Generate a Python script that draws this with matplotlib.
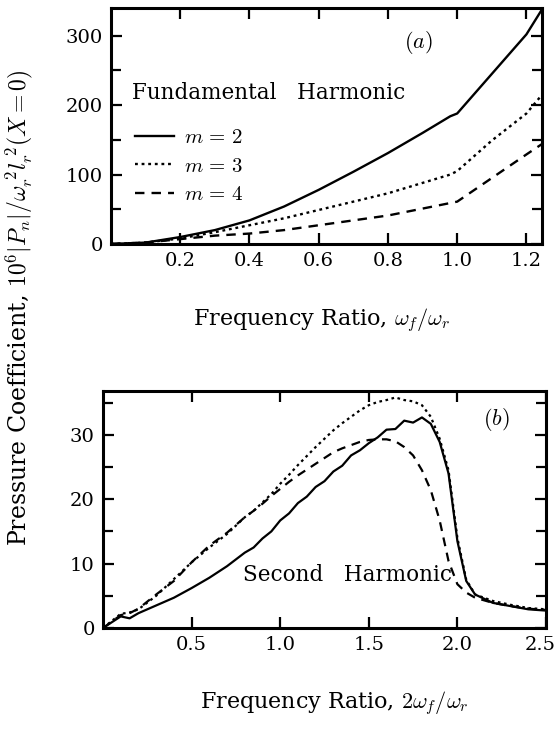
import matplotlib
matplotlib.use("Agg")
import matplotlib.pyplot as plt
from matplotlib.ticker import MultipleLocator
import matplotlib.transforms as mtransforms

plt.rcParams['font.family'] = ['DejaVu Serif']
plt.rcParams['mathtext.fontset'] = 'cm'

# ---- Panel (a): fundamental harmonic ----
xa = [0.0, 0.1, 0.2, 0.3, 0.4, 0.5, 0.6, 0.7, 0.8, 0.9, 0.98, 1.0, 1.1, 1.2, 1.245]
a_m2 = [0, 2, 10, 20, 34, 54, 78, 104, 131, 160, 184, 188, 245, 302, 338]
a_m3 = [0, 2, 8, 17, 27, 37, 49, 61, 73, 88, 100, 105, 149, 188, 215]
a_m4 = [0, 2, 7, 12, 15, 20, 27, 34, 41, 51, 59, 61, 95, 129, 144]
labels_a = ['$m\\,=\\,2$', '$m\\,=\\,3$', '$m\\,=\\,4$']

# ---- Panel (b): second harmonic ----
xb = [0.0, 0.1, 0.15, 0.2, 0.3, 0.4, 0.5, 0.6, 0.7, 0.8, 0.85, 0.9, 0.95, 1.0,
      1.05, 1.1, 1.15, 1.2, 1.25, 1.3, 1.35, 1.4, 1.45, 1.5, 1.55, 1.6, 1.65,
      1.7, 1.75, 1.8, 1.85, 1.9, 1.95, 2.0, 2.05, 2.1, 2.2, 2.3, 2.4, 2.5]
b_m2 = [0.0, 1.8, 1.5, 2.3, 3.5, 4.7, 6.2, 7.8, 9.6, 11.7, 12.5, 13.9, 15.0, 16.7,
        17.8, 19.4, 20.4, 21.9, 22.8, 24.3, 25.2, 26.8, 27.6, 28.7, 29.6, 30.8, 30.9,
        32.2, 31.9, 32.7, 31.7, 28.9, 24.0, 13.5, 7.3, 5.2, 3.9, 3.4, 2.9, 2.7]
b_m3 = [0.0, 2.2, 2.4, 2.9, 5.0, 7.6, 10.2, 12.5, 14.6, 17.2, 18.2, 19.5, 20.8, 22.4,
        23.8, 25.3, 26.7, 28.1, 29.4, 30.7, 31.8, 32.8, 33.8, 34.6, 35.1, 35.4, 35.8,
        35.4, 35.2, 34.6, 32.8, 29.4, 24.5, 14.0, 7.5, 5.2, 4.2, 3.6, 3.1, 2.9]
b_m4 = [0.0, 2.0, 2.3, 3.0, 5.2, 7.3, 10.2, 12.8, 14.8, 17.2, 18.2, 19.3, 20.5, 21.6,
        22.7, 23.7, 24.6, 25.5, 26.4, 27.3, 27.9, 28.4, 28.9, 29.2, 29.3, 29.3, 29.0,
        28.1, 26.8, 24.5, 21.4, 16.7, 10.4, 6.8, 5.5, 4.7, 3.9, 3.4, 3.0, 2.8]

xticks_a = [0.2, 0.4, 0.6, 0.8, 1.0, 1.2]
xticks_b = [0.5, 1.0, 1.5, 2.0, 2.5]

styles = ['-', (0, (1.2, 1.6)), (0, (4, 3))]

fig = plt.figure(figsize=(5.59, 7.32), dpi=100)
axa = fig.add_axes([0.1986, 0.6667, 0.7710, 0.3224])
axb = fig.add_axes([0.1843, 0.1421, 0.7924, 0.3237])

for ys, ls, lab in zip([a_m2, a_m3, a_m4], styles, labels_a):
    axa.plot(xa, ys, color='black', lw=1.7, linestyle=ls, label=lab)
for ys, ls in zip([b_m2, b_m3, b_m4], styles):
    axb.plot(xb, ys, color='black', lw=1.6, linestyle=ls)

axa.set_xlim(0, 1.245)
axa.set_ylim(0, 340)
axa.set_xticks(xticks_a)
axa.set_xticklabels([f'{v:.1f}' for v in xticks_a])
axa.yaxis.set_major_locator(MultipleLocator(100))
axa.yaxis.set_minor_locator(MultipleLocator(50))

axb.set_xlim(0, 2.5)
axb.set_ylim(0, 36.8)
axb.set_xticks(xticks_b)
axb.set_xticklabels([f'{v:.1f}' for v in xticks_b])
axb.yaxis.set_major_locator(MultipleLocator(10))
axb.yaxis.set_minor_locator(MultipleLocator(5))

for ax in (axa, axb):
    for sp in ax.spines.values():
        sp.set_linewidth(2.2)
    ax.tick_params(which='both', direction='in', top=True, right=True,
                   labelsize=14, width=1.6, pad=6)
    ax.tick_params(which='major', length=8)
    ax.tick_params(which='minor', length=7)

# shift the last bottom tick label slightly left so it stays inside the figure
fig.canvas.draw()
last = axb.get_xticklabels()[-1]
last.set_transform(last.get_transform() +
                   mtransforms.ScaledTranslation(-4 / 72, 0, fig.dpi_scale_trans))

axa.text(0.714, 0.855, '$(a)$', transform=axa.transAxes, fontsize=16, ha='center', va='center')
axb.text(0.889, 0.878, '$(b)$', transform=axb.transAxes, fontsize=16, ha='center', va='center')

axa.text(0.06, 217, 'Fundamental   Harmonic', fontsize=15.5, ha='left', va='center')
axa.legend(loc='upper left', bbox_to_anchor=(0.055, 0.49), frameon=False, fontsize=15,
           handlelength=1.9, handletextpad=0.45, labelspacing=0.45, borderaxespad=0.0,
           borderpad=0.0)

axb.text(0.79, 8.3, 'Second   Harmonic', fontsize=15.5, ha='left', va='center')

fig.text(0.575, 0.563, r'Frequency Ratio, $\omega_f/\omega_r$', fontsize=16, ha='center', va='center')
fig.text(0.598, 0.04, r'Frequency Ratio, $2\omega_f/\omega_r$', fontsize=16, ha='center', va='center')
fig.text(0.035, 0.579, r'Pressure Coefficient, $10^6|P_n|/\omega_r^{\ 2}l_r^{\ 2}(X=0)$',
         fontsize=17, rotation=90, ha='center', va='center')

fig.savefig('out.png', dpi=100)
